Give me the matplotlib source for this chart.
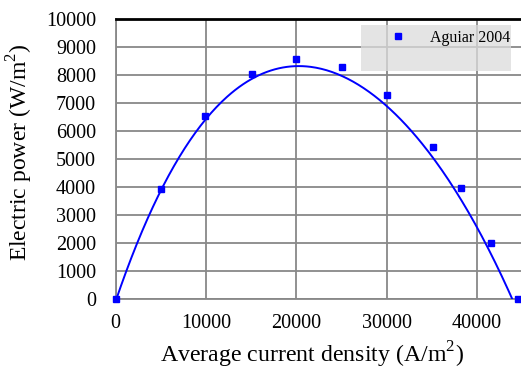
import matplotlib.pyplot as plt
import numpy as np
from matplotlib.patches import Rectangle

plt.rcParams['font.family'] = 'Liberation Serif'
plt.rcParams['mathtext.fontset'] = 'custom'
plt.rcParams['mathtext.rm'] = 'Liberation Serif'

# measured points
current_density = [0, 5000, 9900, 15100, 20000, 25000, 30000, 35100, 38200, 41500, 44500]
power = [0, 3950, 6540, 8050, 8570, 8300, 7290, 5430, 3980, 2020, 0]

# model curve
model_x = [0, 1800, 5000, 6950, 10000, 12500, 15100, 17300, 20000, 22500,
           24800, 27400, 30000, 32600, 35200, 37400, 40000, 42200, 43890]
model_y = [0, 1400, 3940, 5080, 6380, 7220, 7930, 8220, 8325, 8195,
           8020, 7580, 6870, 5970, 5020, 4070, 2530, 1160, 0]

x_ticks = [0, 10000, 20000, 30000, 40000]
y_ticks = np.arange(0, 10001, 1000)

coef = np.polyfit(model_x, model_y, 4)
xs = np.linspace(0, 43890, 300)
ys = np.polyval(coef, xs)

fig = plt.figure(figsize=(5.21, 3.68), dpi=100)
ax = fig.add_axes([0.222, 0.187, 0.778, 0.761])

ax.plot(xs, ys, color='#0000ff', linewidth=1.4, zorder=3)
ax.plot(current_density, power, 's', color='#0000ff', markersize=5,
        linestyle='none', label='Aguiar 2004', zorder=4, clip_on=False)

ax.set_xlim(0, 44850)
ax.set_ylim(0, 10000)
ax.set_xticks(x_ticks)
ax.set_yticks(y_ticks)
ax.grid(color='#888888', linewidth=1.3)
ax.set_axisbelow(True)
ax.tick_params(length=0, labelsize=14.5, pad=11, colors='black')
ax.tick_params(axis='y', pad=14)

for side in ['left', 'bottom']:
    ax.spines[side].set_color('#888888')
    ax.spines[side].set_linewidth(1.3)
ax.spines['right'].set_visible(False)
ax.spines['top'].set_color('black')
ax.spines['top'].set_linewidth(2)

ax.set_xlabel(r'Average current density (A/m$^2$)', fontsize=17.2)
ax.xaxis.set_label_coords(0.484, -0.143)
ax.set_ylabel(r'Electric power (W/m$^2$)', fontsize=17)
ax.yaxis.set_label_coords(-0.2, 0.525)

# shaded legend panel
ax.add_patch(Rectangle((0.605, 0.815), 0.37, 0.165, transform=ax.transAxes,
                       facecolor='#dcdcdc', alpha=0.75, edgecolor='none', zorder=2))
ax.legend(loc='upper right', bbox_to_anchor=(0.99, 0.985), frameon=False,
          fontsize=11.5, handletextpad=1.0, borderaxespad=0)

fig.savefig('out.png', dpi=100)
